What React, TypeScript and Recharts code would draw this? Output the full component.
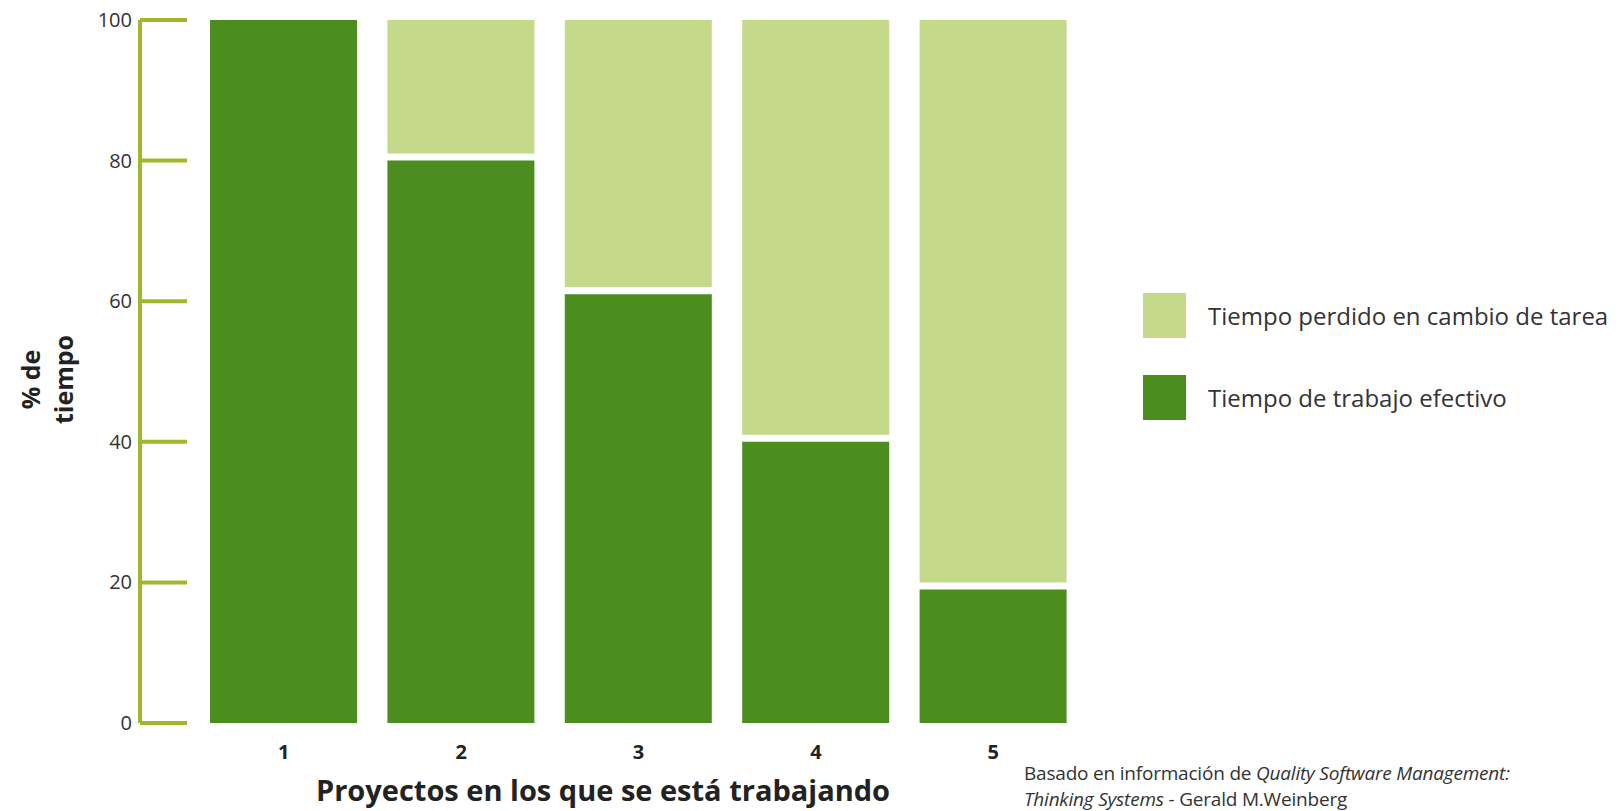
import { Bar, BarChart, Label, XAxis, YAxis } from "recharts";

const proyectos = ["1", "2", "3", "4", "5"];
const trabajoEfectivo = [100, 80, 61, 40, 19];
const tiempoPerdido = [0, 20, 39, 60, 81];
const yTicks = [0, 20, 40, 60, 80, 100];

const data = proyectos.map((p, i) => ({
  proyecto: p,
  efectivo: trabajoEfectivo[i],
  perdido: tiempoPerdido[i],
}));

const DARK = "#4b8e1f";
const LIGHT = "#c5d98b";
const AXIS = "#9fb82c";
const FONT = "'Open Sans', sans-serif";

const YTick = (props: any) => {
  const { x, y, payload } = props;
  return (
    <g>
      <line x1={x + 8} x2={x + 55} y1={y} y2={y} stroke={AXIS} strokeWidth={4} />
      <text x={x} y={y} dy="0.35em" textAnchor="end" fontSize={20} fill="#333" fontFamily={FONT}>
        {payload.value}
      </text>
    </g>
  );
};

// top segment leaves a white gap above the dark one
const LostShape = (props: any) => {
  const { x, y, width, height, fill } = props;
  const h = height - 7;
  if (!h || h <= 0) return null;
  return <rect x={x} y={y} width={width} height={h} fill={fill} />;
};

const YTitle = (props: any) => {
  const { viewBox } = props;
  const cx = 44;
  const cy = viewBox.y + viewBox.height / 2 + 8;
  return (
    <text
      transform={`rotate(-90, ${cx}, ${cy})`}
      x={cx}
      y={cy}
      textAnchor="middle"
      fontSize={25}
      fontWeight={700}
      fill="#222"
      fontFamily={FONT}
    >
      <tspan x={cx} dy="-0.15em">% de</tspan>
      <tspan x={cx} dy="1.3em">tiempo</tspan>
    </text>
  );
};

const legendItems = [
  { color: LIGHT, label: "Tiempo perdido en cambio de tarea" },
  { color: DARK, label: "Tiempo de trabajo efectivo" },
];

export default function App() {
  return (
    <div style={{ position: "absolute", left: 0, top: 0, width: 1623, height: 811, background: "#fff" }}>
      <BarChart
        width={1623}
        height={811}
        data={data}
        margin={{ top: 20, right: 541, left: 0, bottom: 0 }}
        barCategoryGap={15}
      >
        <XAxis
          dataKey="proyecto"
          axisLine={false}
          tickLine={false}
          tickSize={0}
          tickMargin={22}
          height={88}
          padding={{ left: 55, right: 0 }}
          tick={{ fill: "#222", fontSize: 20, fontWeight: 700, fontFamily: FONT }}
        >
          <Label
            value="Proyectos en los que se está trabajando"
            position="insideBottom"
            offset={10}
            dx={-8}
            style={{ fontSize: 29, fontWeight: 700, fill: "#222", fontFamily: FONT }}
          />
        </XAxis>
        <YAxis
          width={140}
          domain={[0, 100]}
          ticks={yTicks}
          interval={0}
          tickSize={0}
          tickMargin={8}
          tickLine={false}
          axisLine={{ stroke: AXIS, strokeWidth: 4 }}
          tick={<YTick />}
        >
          <Label content={<YTitle />} />
        </YAxis>
        <Bar dataKey="efectivo" stackId="a" fill={DARK} isAnimationActive={false} />
        <Bar dataKey="perdido" stackId="a" fill={LIGHT} shape={<LostShape />} isAnimationActive={false} />
      </BarChart>
      <div style={{ position: "absolute", left: 1143, top: 293, fontFamily: FONT }}>
        {legendItems.map((it) => (
          <div key={it.label} style={{ display: "flex", alignItems: "center", height: 45, marginBottom: 37 }}>
            <div style={{ width: 43, height: 45, background: it.color, marginRight: 22 }} />
            <span style={{ fontSize: 24, color: "#333" }}>{it.label}</span>
          </div>
        ))}
      </div>
      <div
        style={{
          position: "absolute",
          left: 1024,
          top: 760,
          fontFamily: FONT,
          fontSize: 19,
          lineHeight: "26px",
          color: "#333",
          letterSpacing: -0.2,
          whiteSpace: "nowrap",
        }}
      >
        Basado en información de <i>Quality Software Management:</i>
        <br />
        <i>Thinking Systems</i> - Gerald M.Weinberg
      </div>
    </div>
  );
}
